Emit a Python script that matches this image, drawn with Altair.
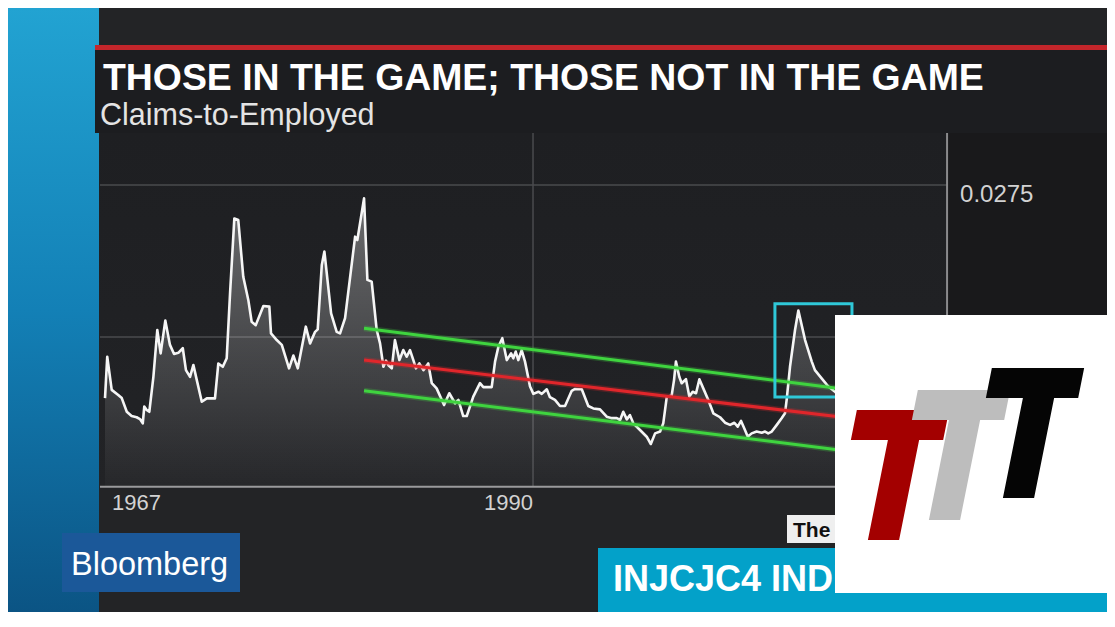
import altair as alt
import pandas as pd

# ---------------- data ----------------
YEARS = [1967.00, 1967.12, 1967.36, 1967.71, 1967.90, 1968.17, 1968.43, 1968.70, 1968.88, 1969.03,
         1969.11, 1969.24, 1969.38, 1969.60, 1969.81, 1969.99, 1970.24, 1970.49, 1970.71, 1970.94,
         1971.18, 1971.35, 1971.57, 1971.75, 1971.93, 1972.20, 1972.47, 1972.91, 1973.09, 1973.33,
         1973.54, 1973.72, 1973.95, 1974.16, 1974.43, 1974.70, 1974.88, 1975.10, 1975.51, 1975.83,
         1975.92, 1976.23, 1976.50, 1976.89, 1977.12, 1977.36, 1977.79, 1978.02, 1978.29, 1978.43,
         1978.65, 1978.79, 1979.15, 1979.45, 1979.63, 1979.90, 1980.44, 1980.56, 1980.92, 1981.10,
         1981.33, 1981.60, 1981.78, 1981.96, 1982.10, 1982.22, 1982.41, 1982.58, 1982.82, 1983.03,
         1983.21, 1983.39, 1983.57, 1983.71, 1983.89, 1984.11, 1984.37, 1984.56, 1984.82, 1985.22,
         1985.50, 1985.81, 1985.99, 1986.25, 1986.44, 1986.79, 1987.15, 1987.33, 1987.78, 1987.96,
         1988.14, 1988.35, 1988.59, 1988.82, 1988.94, 1989.07, 1989.21, 1989.39, 1989.57, 1989.84,
         1990.02, 1990.29, 1990.47, 1990.74, 1990.91, 1991.18, 1991.45, 1991.72, 1992.08, 1992.26,
         1992.62, 1992.97, 1993.24, 1993.60, 1993.96, 1994.23, 1994.50, 1994.68, 1994.85, 1995.04,
         1995.21, 1995.39, 1995.75, 1996.11, 1996.33, 1996.56, 1996.83, 1997.00, 1997.19, 1997.45,
         1997.58, 1997.68, 1997.86, 1997.99, 1998.22, 1998.40, 1998.58, 1998.76, 1998.94, 1999.15,
         1999.42, 1999.69, 2000.05, 2000.32, 2000.59, 2000.82, 2001.00, 2001.18, 2001.39, 2001.54,
         2001.75, 2002.02, 2002.29, 2002.47, 2002.64, 2002.83, 2003.10, 2003.36, 2003.54, 2003.63,
         2003.81, 2004.08, 2004.26, 2004.62, 2004.98, 2005.15, 2005.51, 2005.87, 2006.23, 2006.60]

VALUES = [0.02049, 0.02185, 0.02076, 0.02059, 0.02049, 0.02004, 0.01990, 0.01986, 0.01980, 0.01966,
          0.02021, 0.02010, 0.02004, 0.02119, 0.02273, 0.02196, 0.02304, 0.02224, 0.02194, 0.02198,
          0.02213, 0.02141, 0.02119, 0.02158, 0.02109, 0.02037, 0.02048, 0.02048, 0.02163, 0.02152,
          0.02180, 0.02394, 0.02640, 0.02635, 0.02448, 0.02372, 0.02300, 0.02289, 0.02352, 0.02350,
          0.02262, 0.02240, 0.02224, 0.02147, 0.02189, 0.02147, 0.02284, 0.02229, 0.02267, 0.02275,
          0.02487, 0.02531, 0.02328, 0.02267, 0.02262, 0.02312, 0.02580, 0.02569, 0.02706, 0.02438,
          0.02432, 0.02273, 0.02229, 0.02152, 0.02172, 0.02158, 0.02147, 0.02240, 0.02174, 0.02207,
          0.02185, 0.02207, 0.02174, 0.02147, 0.02163, 0.02141, 0.02163, 0.02098, 0.02081, 0.02026,
          0.02065, 0.02032, 0.02043, 0.01990, 0.01990, 0.02054, 0.02098, 0.02085, 0.02085, 0.02169,
          0.02218, 0.02246, 0.02174, 0.02196, 0.02180, 0.02202, 0.02174, 0.02207, 0.02169, 0.02087,
          0.02063, 0.02070, 0.02063, 0.02078, 0.02052, 0.02043, 0.02023, 0.02023, 0.02073, 0.02079,
          0.02078, 0.02023, 0.02015, 0.02012, 0.01988, 0.01983, 0.01983, 0.01977, 0.02004, 0.01979,
          0.01993, 0.01966, 0.01944, 0.01922, 0.01898, 0.01933, 0.01939, 0.01966, 0.02054, 0.02057,
          0.02109, 0.02169, 0.02119, 0.02098, 0.02111, 0.02054, 0.02070, 0.02065, 0.02111, 0.02081,
          0.02043, 0.01999, 0.01986, 0.01968, 0.01961, 0.01968, 0.01955, 0.01974, 0.01944, 0.01922,
          0.01933, 0.01939, 0.01935, 0.01939, 0.01933, 0.01939, 0.01961, 0.01983, 0.01999, 0.02043,
          0.02152, 0.02273, 0.02337, 0.02240, 0.02169, 0.02141, 0.02114, 0.02087, 0.02070, 0.02049]

# trend channel drawn on the chart (start / end)
TREND_YEARS = [1980.92, 2006.77]
TREND_UPPER = [0.02279, 0.02078]
TREND_MIDDLE = [0.02174, 0.01985]
TREND_LOWER = [0.02073, 0.01876]

# highlight box around the last spike
BOX_YEARS = [2003.00, 2007.14]
BOX_VALUES = [0.02053, 0.02359]

# axes
Y_TICKS = [0.0225, 0.0275]
Y_TICK_LABELS = ["0.0225", "0.0275"]
X_TICKS = [1967, 1990]
X_TICK_LABELS = ["1967", "1990"]
PANEL_YEARS = [1966.73, 2012.25]
PANEL_VALUES = [0.01757, 0.02921]

TITLE = "THOSE IN THE GAME; THOSE NOT IN THE GAME"
SUBTITLE = "Claims-to-Employed"

# ---------------- canvas / scales ----------------
W, H = 1099, 604          # fits inside the 1115x627 window with the 8px page margin
O = 8                     # page margin
XS = alt.Scale(domain=[1961.787, 2020.845], nice=False, zero=False)
YS = alt.Scale(domain=[0.013454, 0.033322], nice=False, zero=False)
FONT = "Liberation Sans"

one = pd.DataFrame({"k": [0]})


def clampx(v):
    return max(0, min(W, v - O))


def clampy(v):
    return max(0, min(H, v - O))


def box(x0, y0, x1, y1, **style):
    return alt.Chart(one).mark_rect(**style).encode(
        x=alt.value(clampx(x0)), x2=alt.value(clampx(x1)),
        y=alt.value(clampy(y0)), y2=alt.value(clampy(y1)))


def label(txt, x, y, **style):
    style.setdefault("font", FONT)
    style.setdefault("align", "left")
    style.setdefault("baseline", "alphabetic")
    return alt.Chart(one).mark_text(text=txt, **style).encode(
        x=alt.value(x - O), y=alt.value(y - O))


# ---------------- background pieces ----------------
blue_grad = alt.Gradient(gradient="linear", x1=0, x2=0, y1=0, y2=1, stops=[
    alt.GradientStop(color="#22a3d2", offset=0),
    alt.GradientStop(color="#1380b6", offset=0.5),
    alt.GradientStop(color="#0b5484", offset=1)])
panel_grad = alt.Gradient(gradient="linear", x1=0, x2=0, y1=0, y2=1, stops=[
    alt.GradientStop(color="#1e1f22", offset=0),
    alt.GradientStop(color="#222326", offset=1)])

bg = [
    box(8, 8, 99, 627, fill=blue_grad),
    box(95, 45, 1115, 50, fill="#c4262b"),
    box(95, 50, 1115, 133, fill="#1c1d20"),
    box(99, 133, 947, 490, fill=panel_grad),
    box(947, 133, 1115, 490, fill="#19191b"),
]

# ---------------- chart ----------------
series = pd.DataFrame({"year": YEARS, "value": VALUES})
xenc = alt.X("year:Q", scale=XS, axis=None)

hgrid = alt.Chart(pd.DataFrame({"v": Y_TICKS})).mark_rule(color="#4a4b4e", strokeWidth=1.5).encode(
    y=alt.Y("v:Q", scale=YS, axis=None),
    x=alt.datum(PANEL_YEARS[0]), x2=alt.datum(PANEL_YEARS[1]))
vgrid = alt.Chart(pd.DataFrame({"t": X_TICKS[1:]})).mark_rule(color="#4a4b4e", strokeWidth=1.5).encode(
    x=alt.X("t:Q", scale=XS, axis=None),
    y=alt.datum(PANEL_VALUES[0]), y2=alt.datum(PANEL_VALUES[1]))

area_grad = alt.Gradient(gradient="linear", x1=0, x2=0, y1=0, y2=1, stops=[
    alt.GradientStop(color="rgba(255,255,255,0.34)", offset=0),
    alt.GradientStop(color="rgba(255,255,255,0.02)", offset=1)])
area = alt.Chart(series).mark_area(fill=area_grad).encode(
    x=xenc, y=alt.Y("value:Q", scale=YS, axis=None), y2=alt.datum(PANEL_VALUES[0]))
line = alt.Chart(series).mark_line(color="#f6f6f6", strokeWidth=2.6, strokeJoin="round").encode(
    x=xenc, y=alt.Y("value:Q", scale=YS, axis=None))

trend = pd.DataFrame({
    "year": TREND_YEARS * 3,
    "value": TREND_UPPER + TREND_MIDDLE + TREND_LOWER,
    "s": ["upper"] * 2 + ["middle"] * 2 + ["lower"] * 2})
trend_glow = alt.Chart(trend).mark_line(strokeWidth=6, opacity=0.25).encode(
    x=xenc, y=alt.Y("value:Q", scale=YS, axis=None),
    color=alt.Color("s:N", scale=alt.Scale(domain=["upper", "middle", "lower"],
                                           range=["#3fd43f", "#e0262b", "#3fd43f"]), legend=None))
trend_line = alt.Chart(trend).mark_line(strokeWidth=3).encode(
    x=xenc, y=alt.Y("value:Q", scale=YS, axis=None),
    color=alt.Color("s:N", scale=alt.Scale(domain=["upper", "middle", "lower"],
                                           range=["#46dc46", "#e0262b", "#46dc46"]), legend=None))

hl = alt.Chart(pd.DataFrame({"x0": [BOX_YEARS[0]], "x1": [BOX_YEARS[1]],
                             "y0": [BOX_VALUES[0]], "y1": [BOX_VALUES[1]]})).mark_rect(
    fillOpacity=0, stroke="#2fc8d8", strokeWidth=3).encode(
    x=alt.X("x0:Q", scale=XS, axis=None), x2="x1:Q",
    y=alt.Y("y0:Q", scale=YS, axis=None), y2="y1:Q")

bottom_axis = alt.Chart(one).mark_rule(color="#9a9a9c", strokeWidth=2).encode(
    x=alt.datum(PANEL_YEARS[0]), x2=alt.datum(PANEL_YEARS[1]), y=alt.datum(PANEL_VALUES[0]))
right_axis = alt.Chart(one).mark_rule(color="#8a8a8c", strokeWidth=2).encode(
    x=alt.datum(PANEL_YEARS[1]), y=alt.datum(PANEL_VALUES[0] - 0.0001), y2=alt.datum(PANEL_VALUES[1]))

ylabels = alt.Chart(pd.DataFrame({"v": Y_TICKS, "t": Y_TICK_LABELS})).mark_text(
    font=FONT, fontSize=24, color="#d2d2d2", align="left", baseline="alphabetic", dx=13, dy=17).encode(
    y=alt.Y("v:Q", scale=YS, axis=None), x=alt.datum(PANEL_YEARS[1]), text="t:N")
xlab_left = alt.Chart(pd.DataFrame({"t": X_TICKS[:1], "l": X_TICK_LABELS[:1]})).mark_text(
    font=FONT, fontSize=22, color="#d2d2d2", align="left", baseline="alphabetic", dx=7, dy=23).encode(
    x=alt.X("t:Q", scale=XS, axis=None), y=alt.datum(PANEL_VALUES[0]), text="l:N")
xlab_right = alt.Chart(pd.DataFrame({"t": X_TICKS[1:], "l": X_TICK_LABELS[1:]})).mark_text(
    font=FONT, fontSize=22, color="#d2d2d2", align="right", baseline="alphabetic", dx=0, dy=23).encode(
    x=alt.X("t:Q", scale=XS, axis=None), y=alt.datum(PANEL_VALUES[0]), text="l:N")

titles = [
    label(TITLE, 103, 90, fontSize=37.4, fontWeight="bold", color="#ffffff"),
    label(SUBTITLE, 100, 125, fontSize=30.5, color="#e4e4e4"),
]

# ---------------- broadcast overlays ----------------
T_PATH = "M-0.51,-1L0.91,-1L0.818,-0.54L0.448,-0.54L0.14,1L-0.34,1L-0.032,-0.54L-0.602,-0.54Z"


def tee(cx, cy, color):
    return alt.Chart(one).mark_point(shape=T_PATH, filled=True, size=16900, fill=color,
                                     opacity=1, strokeWidth=0).encode(
        x=alt.value(cx - O), y=alt.value(cy - O))


overlays = [
    box(62, 533, 240, 592, fill="#1b5899"),
    label("Bloomberg", 71, 575, fontSize=32.5, color="#ffffff"),
    box(787, 515, 845, 543, fill="#efefef"),
    label("The", 793, 537, fontSize=21, fontWeight="bold", color="#111111"),
    box(598, 548, 1115, 627, fill="#03a1c9"),
    label("INJCJC4 INDEX", 613, 591, fontSize=36, fontWeight="bold", color="#ffffff"),
    box(835, 315, 1115, 593, fill="#ffffff"),
    tee(890, 475, "#a30000"),
    tee(951, 455, "#bdbdbd"),
    tee(1025, 433, "#050505"),
]

layers = bg + [hgrid, vgrid, area, line, trend_glow, trend_line, hl, bottom_axis, right_axis,
               ylabels, xlab_left, xlab_right] + titles + overlays

chart = alt.layer(*layers).properties(
    width=W, height=H,
    autosize=alt.AutoSizeParams(type="none"),
    padding=0,
    background="#232426",
).configure_view(stroke=None).configure_axis(disable=True)

chart.save("out.html", embed_options={"renderer": "svg", "actions": False})
